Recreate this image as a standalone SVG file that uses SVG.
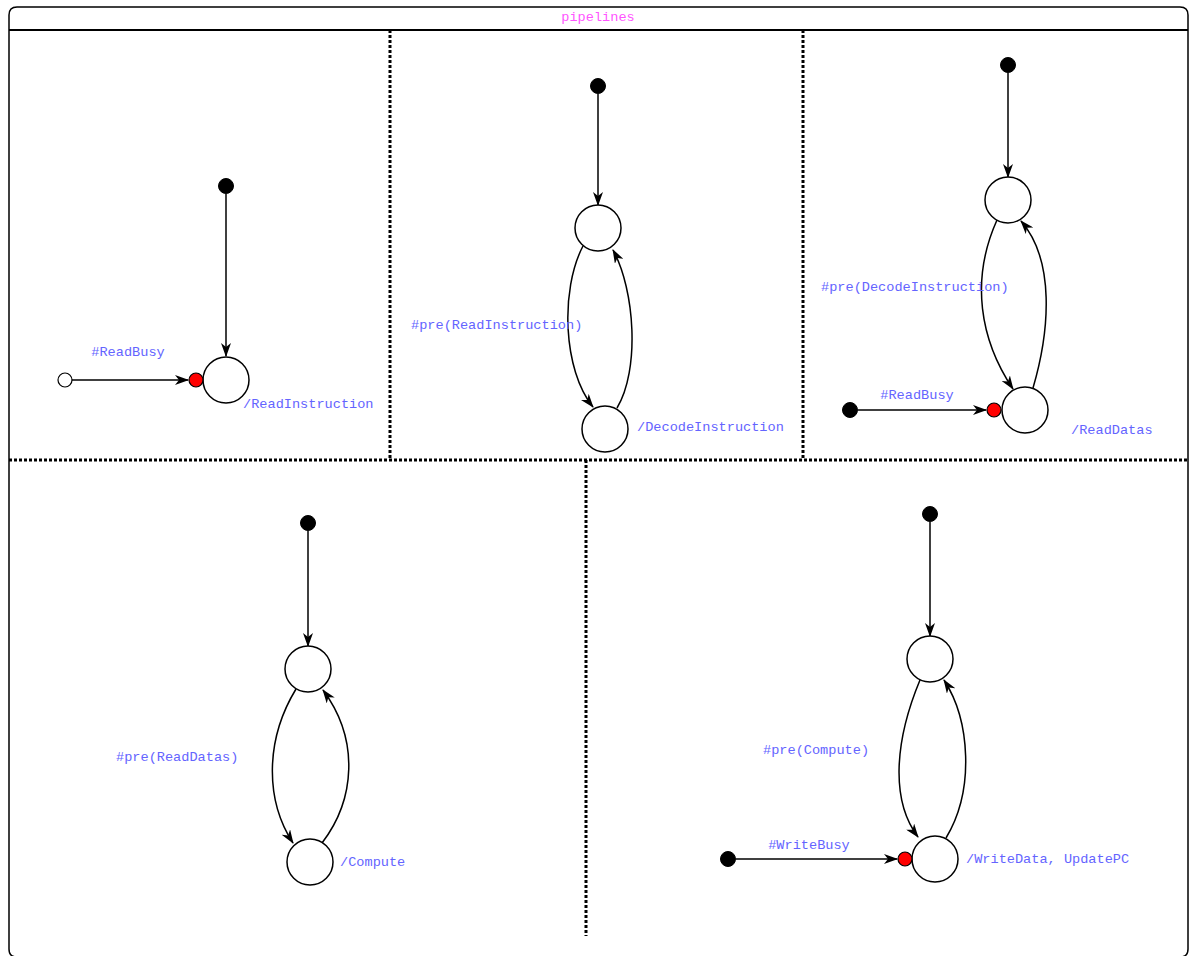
<svg xmlns="http://www.w3.org/2000/svg" width="1196" height="956" viewBox="0 0 1196 956">
<style>
.frame{fill:#fff;stroke:#000;stroke-width:1.5}
.hdr{stroke:#000;stroke-width:2}
.dash{stroke:#000;stroke-width:3;stroke-dasharray:3,2;fill:none}
.st{fill:#fff;stroke:#000;stroke-width:1.5}
.init{fill:#000;stroke:#000;stroke-width:1}
.hist{fill:#fff;stroke:#000;stroke-width:1.2}
.red{fill:#f00;stroke:#000;stroke-width:1.2}
.edge{fill:none;stroke:#000;stroke-width:1.5;marker-end:url(#arr)}
.lbl{font-family:"Liberation Mono","Courier New",monospace;font-size:13.6px;fill:#6464ff}
.title{font-family:"Liberation Mono","Courier New",monospace;font-size:13.6px;fill:#ff55ff}
</style>
<defs>
<marker id="arr" viewBox="0 0 14 10" refX="13" refY="5" markerWidth="14" markerHeight="10" markerUnits="userSpaceOnUse" orient="auto">
<path d="M0,0 L14,5 L0,10 L4,5 z" fill="#000"/>
</marker>
</defs>
<g id="container">
<path class="frame" d="M9,949 L9,15 Q9,7 17,7 L1180,7 Q1188,7 1188,15 L1188,949 Q1188,957 1180,957 L17,957 Q9,957 9,949 Z"/>
<line class="hdr" x1="9" y1="30" x2="1188" y2="30"/>
<text class="title" x="598" y="21" text-anchor="middle">pipelines</text>
<line class="dash" x1="9" y1="460" x2="1188" y2="460"/>
<line class="dash" x1="390" y1="30" x2="390" y2="460"/>
<line class="dash" x1="803" y1="30" x2="803" y2="460"/>
<line class="dash" x1="586" y1="460" x2="586" y2="936"/>
</g>
<g id="connectors">
<line class="edge" x1="226" y1="194" x2="226" y2="356"/>
<line class="edge" x1="65" y1="380" x2="188" y2="380"/>
<line class="edge" x1="598" y1="94" x2="598" y2="205"/>
<path class="edge" d="M583,246 C560,290 563,370 593,407"/>
<path class="edge" d="M617,408 C640,370 635,290 613,250"/>
<line class="edge" x1="1008" y1="73" x2="1008" y2="177"/>
<path class="edge" d="M997,220 C970,280 980,340 1013,389"/>
<path class="edge" d="M1033,388 C1050,330 1055,260 1021,221"/>
<line class="edge" x1="858" y1="410" x2="986" y2="410"/>
<line class="edge" x1="308" y1="531" x2="308" y2="646"/>
<path class="edge" d="M296,689 C265,740 265,800 293,843"/>
<path class="edge" d="M322,843 C355,800 360,740 323,690"/>
<line class="edge" x1="930" y1="522" x2="930" y2="636"/>
<path class="edge" d="M920,680 C895,740 890,800 918,837"/>
<path class="edge" d="M946,838 C975,790 970,720 944,680"/>
<line class="edge" x1="736" y1="859" x2="897" y2="859"/>
</g>
<g id="labels">
<text class="lbl" x="128" y="356" text-anchor="middle">#ReadBusy</text>
<text class="lbl" x="243" y="408">/ReadInstruction</text>
<text class="lbl" x="411" y="329">#pre(ReadInstruction)</text>
<text class="lbl" x="637" y="431">/DecodeInstruction</text>
<text class="lbl" x="821" y="291">#pre(DecodeInstruction)</text>
<text class="lbl" x="917" y="399" text-anchor="middle">#ReadBusy</text>
<text class="lbl" x="1071" y="434">/ReadDatas</text>
<text class="lbl" x="116" y="761">#pre(ReadDatas)</text>
<text class="lbl" x="340" y="866">/Compute</text>
<text class="lbl" x="763" y="754">#pre(Compute)</text>
<text class="lbl" x="809" y="849" text-anchor="middle">#WriteBusy</text>
<text class="lbl" x="966" y="863">/WriteData, UpdatePC</text>
</g>
<g id="p1-init"><circle class="init" cx="226" cy="186" r="7.5"/></g>
<g id="p1-state"><circle class="st" cx="226" cy="380" r="23"/></g>
<g id="p1-entry"><circle class="red" cx="196" cy="380" r="7"/></g>
<g id="p1-src"><circle class="hist" cx="65" cy="380" r="7"/></g>
<g id="p2-init"><circle class="init" cx="598" cy="86" r="7.5"/></g>
<g id="p2-state1"><circle class="st" cx="598" cy="228" r="23"/></g>
<g id="p2-state2"><circle class="st" cx="605" cy="429" r="23"/></g>
<g id="p3-init"><circle class="init" cx="1008" cy="65" r="7.5"/></g>
<g id="p3-state1"><circle class="st" cx="1008" cy="200" r="23"/></g>
<g id="p3-state2"><circle class="st" cx="1025" cy="410" r="23"/></g>
<g id="p3-entry"><circle class="red" cx="994" cy="410" r="7"/></g>
<g id="p3-src"><circle class="init" cx="850" cy="410" r="7.5"/></g>
<g id="p4-init"><circle class="init" cx="308" cy="523" r="7.5"/></g>
<g id="p4-state1"><circle class="st" cx="308" cy="669" r="23"/></g>
<g id="p4-state2"><circle class="st" cx="310" cy="862" r="23"/></g>
<g id="p5-init"><circle class="init" cx="930" cy="514" r="7.5"/></g>
<g id="p5-state1"><circle class="st" cx="930" cy="659" r="23"/></g>
<g id="p5-state2"><circle class="st" cx="935" cy="859" r="23"/></g>
<g id="p5-entry"><circle class="red" cx="905" cy="859" r="7"/></g>
<g id="p5-src"><circle class="init" cx="728" cy="859" r="7.5"/></g>
</svg>
